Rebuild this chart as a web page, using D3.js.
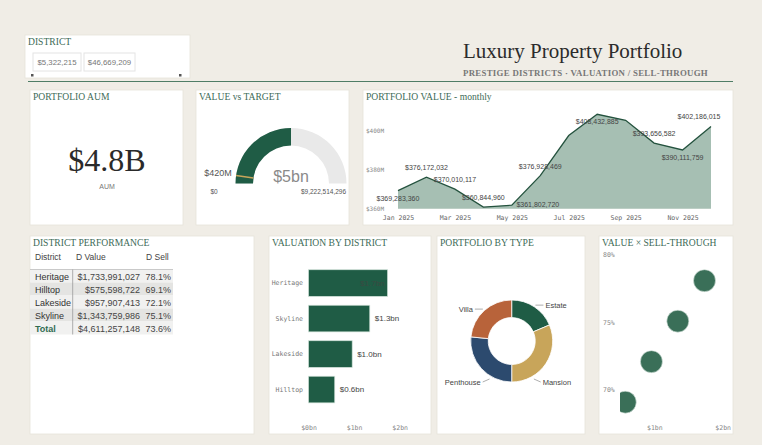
<!DOCTYPE html>
<html>
<head>
<meta charset="utf-8">
<script src="https://cdn.jsdelivr.net/npm/d3@7"></script>
<style>
  html, body { margin: 0; padding: 0; background: #f0ede6; }
  svg { display: block; }
</style>
</head>
<body>
<svg id="dash"></svg>
<script>
// ---- data ----
const sliderRange = [5322215, 46669209];
const aumValue = 4.8e9;

const gaugeValue = 4611257148;
const gaugeMax = 9222514296;
const gaugeTarget = 420e6;

const months = ["Jan 2025", "Feb 2025", "Mar 2025", "Apr 2025", "May 2025", "Jun 2025",
  "Jul 2025", "Aug 2025", "Sep 2025", "Oct 2025", "Nov 2025", "Dec 2025"];
const monthlyValue = [369283360, 376172032, 370010117, 360844960, 361802720, 376928469,
  397500000, 408432885, 405300000, 393656582, 390111759, 402186015];
const monthTicks = ["Jan 2025", "Mar 2025", "May 2025", "Jul 2025", "Sep 2025", "Nov 2025"];
const monthlyYTicks = [360e6, 380e6, 400e6];

const districts = ["Heritage", "Hilltop", "Lakeside", "Skyline"];
const districtValue = [1733991027, 575598722, 957907413, 1343759986];
const districtSell = [78.1, 69.1, 72.1, 75.1];
const totalValue = 4611257148;
const totalSell = 73.6;

const types = ["Estate", "Mansion", "Penthouse", "Villa"];
const typeValue = [0.858e9, 1.448e9, 1.227e9, 1.079e9];

const barTicks = [0, 1e9, 2e9];
const scatterXTicks = [1e9, 2e9];
const scatterYTicks = [70, 75, 80];

// label placement for the monthly chart (null = no label)
const monthLabelPos = ["below", "above", "above", "above", "right", "above",
  null, "below", null, "above", "below", "above"];

// ---- setup ----
const width = 762;
const height = 445;
const green = "#3d6b57";
const serif = "'Liberation Serif', 'DejaVu Serif', serif";
const sans = "'Liberation Sans', 'Noto Sans', sans-serif";
const mono = "'DejaVu Sans Mono', 'Liberation Mono', monospace";

const svg = d3.select("#dash").attr("width", width).attr("height", height);
svg.append("rect").attr("width", width).attr("height", height).attr("fill", "#f0ede6");

function panel(x, y, w, h, title) {
  svg.append("rect")
    .attr("x", x).attr("y", y).attr("width", w).attr("height", h)
    .attr("fill", "#fff").attr("stroke", "#e7e3da").attr("stroke-width", 0.8);
  if (title) {
    svg.append("text")
      .attr("x", x + 3).attr("y", y + 10)
      .attr("font-family", serif).attr("font-size", 9.6)
      .attr("fill", green).text(title);
  }
}

// ---- header ----
panel(25, 35, 165, 43, "DISTRICT");
const fmtInt = d3.format("$,.0f");
[[33, 48], [84, 51]].forEach(([bx, bw], i) => {
  svg.append("rect").attr("x", bx).attr("y", 53).attr("width", bw).attr("height", 18)
    .attr("fill", "#fff").attr("stroke", "#e4e4e4");
  svg.append("text").attr("x", bx + bw / 2).attr("y", 65)
    .attr("text-anchor", "middle").attr("font-family", sans).attr("font-size", 7.8)
    .attr("fill", "#777").text(fmtInt(sliderRange[i]));
});
svg.append("rect").attr("x", 31).attr("y", 74).attr("width", 2.5).attr("height", 2.5).attr("fill", "#555");
svg.append("rect").attr("x", 179).attr("y", 74).attr("width", 2.5).attr("height", 2.5).attr("fill", "#555");

svg.append("line").attr("x1", 28).attr("x2", 733).attr("y1", 81.5).attr("y2", 81.5)
  .attr("stroke", "#4f7d66").attr("stroke-width", 1.2);

svg.append("text").attr("x", 463).attr("y", 58)
  .attr("font-family", serif).attr("font-size", 21).attr("fill", "#2b2b2b")
  .text("Luxury Property Portfolio");
svg.append("text").attr("x", 463).attr("y", 76)
  .attr("font-family", serif).attr("font-size", 8.8).attr("font-weight", "bold")
  .attr("letter-spacing", 0.3)
  .attr("fill", "#777").text("PRESTIGE DISTRICTS  ·  VALUATION / SELL-THROUGH");

// ---- AUM card ----
panel(30, 90, 153, 135, "PORTFOLIO AUM");
svg.append("text").attr("x", 107).attr("y", 171).attr("text-anchor", "middle")
  .attr("font-family", serif).attr("font-size", 32).attr("fill", "#2a2a2a")
  .text("$" + (aumValue / 1e9).toFixed(1) + "B");
svg.append("text").attr("x", 107).attr("y", 189).attr("text-anchor", "middle")
  .attr("font-family", sans).attr("font-size", 7).attr("fill", "#777").text("AUM");

// ---- gauge ----
panel(196, 90, 153, 135, "VALUE vs TARGET");
const gcx = 291, gcy = 183.5;
const gAngle = d3.scaleLinear().domain([0, gaugeMax]).range([-Math.PI / 2, Math.PI / 2]);
const gArc = d3.arc().innerRadius(38).outerRadius(55.5);
const gauge = svg.append("g").attr("transform", `translate(${gcx},${gcy})`);
gauge.append("path")
  .attr("d", gArc({ startAngle: -Math.PI / 2, endAngle: Math.PI / 2 }))
  .attr("fill", "#e9e9e9");
gauge.append("path")
  .attr("d", gArc({ startAngle: -Math.PI / 2, endAngle: gAngle(gaugeValue) }))
  .attr("fill", "#1f5c45");
const ta = gAngle(gaugeTarget);
gauge.append("line")
  .attr("x1", 38 * Math.sin(ta)).attr("y1", -38 * Math.cos(ta))
  .attr("x2", 55.5 * Math.sin(ta)).attr("y2", -55.5 * Math.cos(ta))
  .attr("stroke", "#c8a55a").attr("stroke-width", 1.5);
gauge.append("text").attr("x", 0).attr("y", -2).attr("text-anchor", "middle")
  .attr("font-family", sans).attr("font-size", 16).attr("fill", "#8a8a8a")
  .text("$" + d3.format(".0f")(gaugeValue / 1e9) + "bn");
svg.append("text").attr("x", 218).attr("y", 176).attr("text-anchor", "middle")
  .attr("font-family", sans).attr("font-size", 9).attr("fill", "#555")
  .text("$" + Math.round(gaugeTarget / 1e6) + "M");
svg.append("text").attr("x", 214).attr("y", 194).attr("text-anchor", "middle")
  .attr("font-family", sans).attr("font-size", 6.5).attr("fill", "#555").text("$0");
svg.append("text").attr("x", 323.5).attr("y", 194).attr("text-anchor", "middle")
  .attr("font-family", sans).attr("font-size", 6.5).attr("fill", "#555").text(fmtInt(gaugeMax));

// ---- monthly area ----
panel(363, 90, 370, 135, "PORTFOLIO VALUE - monthly");
const mx = d3.scalePoint().domain(months).range([398, 711]);
const my = d3.scaleLinear().domain([360e6, 400e6]).range([208.7, 130.7]);
const area = d3.area()
  .x((d, i) => mx(months[i])).y0(my(360e6)).y1(d => my(d));
const line = d3.line().x((d, i) => mx(months[i])).y(d => my(d));
svg.append("path").datum(monthlyValue).attr("d", area).attr("fill", "#a6bfb3");
svg.append("path").datum(monthlyValue).attr("d", line)
  .attr("fill", "none").attr("stroke", "#24523e").attr("stroke-width", 1.3);

const mAxisY = svg.append("g").attr("transform", "translate(366,0)")
  .call(d3.axisRight(my).tickValues(monthlyYTicks).tickSize(0).tickFormat(d => "$" + d / 1e6 + "M"));
mAxisY.select(".domain").remove();
mAxisY.selectAll("text").attr("x", 0).attr("font-family", mono).attr("font-size", 6).attr("fill", "#888");

const mAxisX = svg.append("g").attr("transform", "translate(0,212)")
  .call(d3.axisBottom(mx).tickValues(monthTicks).tickSize(0));
mAxisX.select(".domain").remove();
mAxisX.selectAll("text").attr("font-family", mono).attr("font-size", 6.5).attr("fill", "#666");

const fmtMoney = d3.format("$,.0f");
monthlyValue.forEach((v, i) => {
  const pos = monthLabelPos[i];
  if (!pos) return;
  let x = mx(months[i]);
  let y = my(v);
  if (pos === "above") y -= 7;
  if (pos === "below") y += 10;
  if (pos === "right") { x += 26; y += 2; }
  x = Math.min(x, 720 - 21);
  svg.append("text").attr("x", x).attr("y", y).attr("text-anchor", "middle")
    .attr("font-family", sans).attr("font-size", 7).attr("fill", "#444")
    .text(fmtMoney(v));
});

// ---- table ----
panel(30, 236, 224, 198, "DISTRICT PERFORMANCE");
const colDistrict = 35, colValue = 140, colSell = 171;
const hdrY = 260;
svg.append("text").attr("x", colDistrict).attr("y", hdrY).attr("font-family", sans)
  .attr("font-size", 8.5).attr("fill", "#444").text("District");
svg.append("text").attr("x", 76).attr("y", hdrY).attr("font-family", sans)
  .attr("font-size", 8.5).attr("fill", "#444").text("D Value");
svg.append("text").attr("x", 146).attr("y", hdrY).attr("font-family", sans)
  .attr("font-size", 8.5).attr("fill", "#444").text("D Sell");

const rows = districts.map((d, i) => ({ name: d, value: districtValue[i], sell: districtSell[i] }));
rows.push({ name: "Total", value: totalValue, sell: totalSell, total: true });
const rowY = d3.scaleBand().domain(d3.range(rows.length)).range([269.5, 334.5]);
rows.forEach((r, i) => {
  const y = rowY(i);
  svg.append("rect").attr("x", 30).attr("y", y).attr("width", 143).attr("height", rowY.bandwidth())
    .attr("fill", i % 2 === 0 ? "#f1f1f0" : "#e4e4e2");
  const ty = y + rowY.bandwidth() - 3;
  svg.append("text").attr("x", colDistrict).attr("y", ty).attr("font-family", sans)
    .attr("font-size", 9).attr("font-weight", r.total ? "bold" : "normal")
    .attr("fill", r.total ? "#2f6b50" : "#333").text(r.name);
  svg.append("text").attr("x", colValue).attr("y", ty).attr("text-anchor", "end")
    .attr("font-family", sans).attr("font-size", 9).attr("fill", "#444").text(fmtInt(r.value));
  svg.append("text").attr("x", colSell).attr("y", ty).attr("text-anchor", "end")
    .attr("font-family", sans).attr("font-size", 9).attr("fill", "#444").text(r.sell.toFixed(1) + "%");
});
svg.append("line").attr("x1", 30).attr("x2", 173).attr("y1", 269.5).attr("y2", 269.5)
  .attr("stroke", "#bdbdbd").attr("stroke-width", 0.8);
svg.append("line").attr("x1", 72.7).attr("x2", 72.7).attr("y1", 269.5).attr("y2", 334.5)
  .attr("stroke", "#9a9a9a").attr("stroke-width", 0.8);

// ---- bars ----
panel(269, 236, 162, 198, "VALUATION BY DISTRICT");
const barData = districts.map((d, i) => ({ name: d, value: districtValue[i] }))
  .sort((a, b) => b.value - a.value);
const bx = d3.scaleLinear().domain([0, 2e9]).range([308.5, 399.7]);
const by = d3.scaleBand().domain(barData.map(d => d.name)).range([265.3, 407.3])
  .paddingInner(0.25).paddingOuter(0.125);
svg.selectAll("rect.bar").data(barData).enter().append("rect")
  .attr("class", "bar")
  .attr("x", bx(0)).attr("y", d => by(d.name))
  .attr("width", d => bx(d.value) - bx(0)).attr("height", by.bandwidth())
  .attr("fill", "#1f5c45").attr("stroke", "#cfe0d7").attr("stroke-width", 0.7);
svg.selectAll("text.barlabel").data(barData).enter().append("text")
  .attr("class", "barlabel")
  .attr("x", d => d.value > 1.5e9 ? bx(d.value) - 3 : bx(d.value) + 5)
  .attr("y", d => by(d.name) + by.bandwidth() / 2)
  .attr("dy", "0.35em")
  .attr("text-anchor", d => d.value > 1.5e9 ? "end" : "start")
  .attr("font-family", sans).attr("font-size", 8)
  .attr("fill", d => d.value > 1.5e9 ? "#3a4a42" : "#444")
  .text(d => "$" + (d.value / 1e9).toFixed(1) + "bn");
const byAxis = svg.append("g").attr("transform", "translate(303,0)")
  .call(d3.axisLeft(by).tickSize(0).tickPadding(0));
byAxis.select(".domain").remove();
byAxis.selectAll("text").attr("font-family", mono).attr("font-size", 6.5).attr("fill", "#777");
const bxAxis = svg.append("g").attr("transform", "translate(0,422)")
  .call(d3.axisBottom(bx).tickValues(barTicks).tickSize(0).tickFormat(d => "$" + d / 1e9 + "bn"));
bxAxis.select(".domain").remove();
bxAxis.selectAll("text").attr("font-family", mono).attr("font-size", 6.5).attr("fill", "#888");

// ---- donut ----
panel(437, 236, 148, 198, "PORTFOLIO BY TYPE");
const dcx = 511.7, dcy = 341;
const typeColor = d3.scaleOrdinal().domain(types).range(["#1f5c45", "#c8a55a", "#2c4a6e", "#b8633a"]);
const pie = d3.pie().sort(null).value(d => d.value);
const slices = pie(types.map((t, i) => ({ name: t, value: typeValue[i] })));
const dArc = d3.arc().innerRadius(23.5).outerRadius(41);
const donut = svg.append("g").attr("transform", `translate(${dcx},${dcy})`);
donut.selectAll("path").data(slices).enter().append("path")
  .attr("d", dArc).attr("fill", d => typeColor(d.data.name))
  .attr("stroke", "#fff").attr("stroke-width", 0.8);
slices.forEach(s => {
  const a = (s.startAngle + s.endAngle) / 2;
  const right = Math.sin(a) > 0;
  const sign = right ? 1 : -1;
  let px = 43 * Math.sin(a), py = -43 * Math.cos(a);
  let lx = px + sign * 8, ly = py;
  if (py > 0) {
    // lower labels get pushed down under the ring
    py = 38; px = sign * Math.sqrt(44 * 44 - 38 * 38);
    lx = sign * 29; ly = 41;
  }
  donut.append("polyline")
    .attr("points", [[px, py], [lx, ly]].map(p => p.join(",")).join(" "))
    .attr("fill", "none").attr("stroke", "#999").attr("stroke-width", 0.8);
  donut.append("text")
    .attr("x", lx + sign * 2).attr("y", ly).attr("dy", "0.35em")
    .attr("text-anchor", right ? "start" : "end")
    .attr("font-family", sans).attr("font-size", 7.5).attr("fill", "#444")
    .text(s.data.name);
});

// ---- scatter ----
panel(599, 236, 134, 198, "VALUE × SELL-THROUGH");
const sx = d3.scaleLinear().domain([0, 2e9]).range([585.9, 722.7]);
const sy = d3.scaleLinear().domain([70, 80]).range([390, 255]);
svg.append("clipPath").attr("id", "sclip").append("rect")
  .attr("x", 620).attr("y", 244).attr("width", 113).attr("height", 172);
svg.append("g").attr("clip-path", "url(#sclip)")
  .selectAll("circle").data(districts.map((d, i) => ({ v: districtValue[i], s: districtSell[i] })))
  .enter().append("circle")
  .attr("cx", d => sx(d.v)).attr("cy", d => sy(d.s)).attr("r", 11)
  .attr("fill", "#3a6f58").attr("stroke", "#dbe7e0").attr("stroke-width", 0.6);
scatterYTicks.forEach(t => {
  svg.append("text").attr("x", 603).attr("y", sy(t)).attr("dy", "0.35em")
    .attr("font-family", mono).attr("font-size", 6.5).attr("fill", "#888").text(t + "%");
});
const sxAxis = svg.append("g").attr("transform", "translate(0,422)")
  .call(d3.axisBottom(sx).tickValues(scatterXTicks).tickSize(0).tickFormat(d => "$" + d / 1e9 + "bn"));
sxAxis.select(".domain").remove();
sxAxis.selectAll("text").attr("font-family", mono).attr("font-size", 6.5).attr("fill", "#888");
</script>
</body>
</html>
